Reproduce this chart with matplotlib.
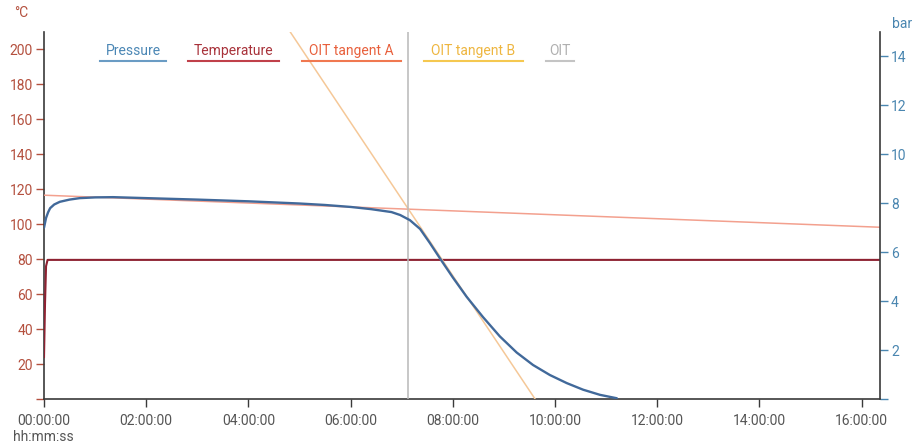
import matplotlib
matplotlib.use("Agg")
import matplotlib.pyplot as plt
from matplotlib.lines import Line2D
from matplotlib.ticker import FuncFormatter, FixedLocator

plt.rcParams['font.family'] = ['Roboto', 'DejaVu Sans']

# ---- data (time in hours) ----
p_time = [0.00, 0.02, 0.04, 0.08, 0.12, 0.20, 0.31, 0.50, 0.70, 1.00, 1.35, 2.00,
          3.00, 4.00, 5.00, 5.50, 6.00, 6.40, 6.80, 6.97, 7.16, 7.26, 7.36, 7.55,
          7.78, 8.00, 8.27, 8.59, 8.92, 9.25, 9.57, 9.90, 10.23, 10.55, 10.88, 11.21]
p_bar = [7.0, 7.2, 7.4, 7.63, 7.8, 7.95, 8.06, 8.15, 8.21, 8.24, 8.25, 8.21,
         8.15, 8.08, 7.99, 7.93, 7.85, 7.76, 7.64, 7.52, 7.31, 7.13, 6.95, 6.38,
         5.65, 4.97, 4.18, 3.35, 2.56, 1.90, 1.39, 0.98, 0.65, 0.38, 0.17, 0.03]

t_time = [0.0, 0.02, 0.04, 0.07, 16.36]
t_degc = [24, 55, 76, 79.6, 79.6]

tanA_time = [0.0, 16.36]
tanA_bar = [8.33, 7.02]
tanB_time = [4.5, 9.61]
tanB_bar = [16.0, 0.0]
oit_time = 7.12

x_ticks = [0, 2, 4, 6, 8, 10, 12, 14, 16]
left_ticks = [0, 20, 40, 60, 80, 100, 120, 140, 160, 180, 200]
right_ticks = [0, 2, 4, 6, 8, 10, 12, 14]

legend_labels = ["Pressure", "Temperature", "OIT tangent A", "OIT tangent B", "OIT"]

# ---- styles ----
W, H = 914, 443
fig = plt.figure(figsize=(W / 100, H / 100), dpi=100)
L, R, B, T = 44, 880, 399, 32
ax = fig.add_axes([L / W, 1 - B / H, (R - L) / W, (B - T) / H])
ax2 = ax.twinx()

c_left = '#b4503e'
c_right = '#4a86b0'
c_axis = '#3a3a3a'

ax.plot(t_time, t_degc, color='#8e2232', lw=1.5, zorder=3)
ax2.plot(tanA_time, tanA_bar, color='#f3a08e', lw=1.1, zorder=2)
ax2.plot(tanB_time, tanB_bar, color='#f5c898', lw=1.1, zorder=2)
ax2.axvline(oit_time, color='#b8b8b8', lw=1.1, zorder=2)
ax2.plot(p_time, p_bar, color='#41699a', lw=1.7, zorder=4, solid_capstyle='round',
         solid_joinstyle='round')

ax.set_xlim(0, 16.36)
ax.set_ylim(0, 210)
ax2.set_ylim(0, 15)

def hms(v, pos=None):
    h = int(round(v))
    return f"{h:02d}:00:00"

ax.xaxis.set_major_locator(FixedLocator(x_ticks))
ax.xaxis.set_major_formatter(FuncFormatter(hms))
ax.set_yticks(left_ticks)
ax.set_yticklabels([''] + [str(v) for v in left_ticks[1:]])
ax2.set_yticks(right_ticks)
ax2.set_yticklabels([''] + [str(v) for v in right_ticks[1:]])

for a in (ax, ax2):
    a.spines['top'].set_visible(False)
ax.spines['left'].set_color(c_axis)
ax.spines['bottom'].set_color(c_axis)
ax2.spines['right'].set_color(c_axis)
ax2.spines['left'].set_visible(False)
ax2.spines['bottom'].set_visible(False)
ax.spines['right'].set_visible(False)
for s in ['left', 'bottom']:
    ax.spines[s].set_linewidth(1.2)
ax2.spines['right'].set_linewidth(1.2)

ax.tick_params(axis='x', colors=c_axis, labelcolor='#555555', labelsize=10, length=6, width=1, pad=5)
ax.tick_params(axis='y', colors=c_left, labelcolor=c_left, labelsize=10, length=6, width=1, pad=2)
ax2.tick_params(axis='y', colors=c_right, labelcolor=c_right, labelsize=10, length=6, width=1, pad=2)

# axis unit labels
fig.text(14 / W, 1 - 13 / H, '°C', color=c_left, fontsize=10, ha='left', va='center')
fig.text(892 / W, 1 - 24 / H, 'bar', color=c_right, fontsize=10, ha='left', va='center')
fig.text(13 / W, 1 - 437 / H, 'hh:mm:ss', color='#555555', fontsize=10, ha='left', va='center')

# custom legend (text with underline)
leg_x = [(100, 166), (188, 279), (302, 401), (424, 523), (546, 574)]
leg_text_c = ['#4b87b5', '#a8323a', '#e8603c', '#eeb640', '#b0b0b0']
leg_line_c = ['#6a9cc4', '#c0404a', '#f07850', '#f5c850', '#c4c4c4']
for (x0, x1), lab, tc, lc in zip(leg_x, legend_labels, leg_text_c, leg_line_c):
    fig.text((x0 + x1) / 2 / W, 1 - 51 / H, lab, color=tc, fontsize=10, ha='center', va='center')
    fig.add_artist(Line2D([x0 / W, x1 / W], [1 - 61 / H, 1 - 61 / H], color=lc, lw=1.5,
                          transform=fig.transFigure))

fig.savefig('out.png', dpi=100)
